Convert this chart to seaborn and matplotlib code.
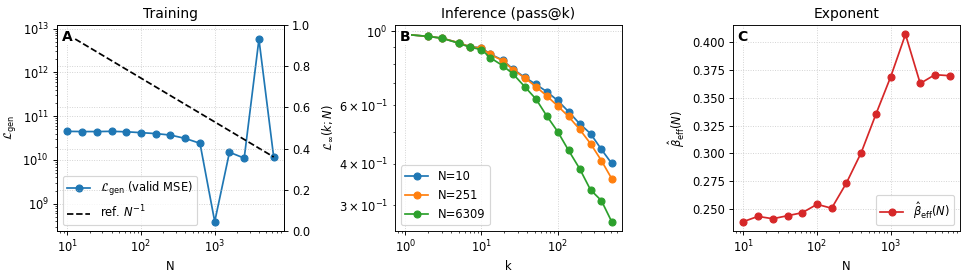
import numpy as np
import pandas as pd
import matplotlib
matplotlib.use("Agg")
import matplotlib.pyplot as plt
import seaborn as sns

# ---- data ----
N_train = [10, 15.8, 25.1, 39.8, 63.1, 100, 158, 251, 398, 631, 1000, 1585, 2512, 3981, 6309]
L_gen = [4.5e10, 4.45e10, 4.45e10, 4.5e10, 4.4e10, 4.2e10, 4.0e10, 3.7e10, 3.1e10, 2.4e10,
         3.9e8, 1.5e10, 1.1e10, 5.7e12, 1.17e10]

k_vals = [1, 2, 3, 5, 7, 10, 13, 19, 26, 37, 52, 72, 100, 139, 194, 270, 375, 512]
L_N10 = [0.98, 0.966, 0.955, 0.925, 0.90, 0.893, 0.855, 0.82, 0.77, 0.728, 0.693, 0.659,
         0.620, 0.574, 0.528, 0.493, 0.442, 0.401]
L_N251 = [0.98, 0.966, 0.955, 0.925, 0.90, 0.89, 0.853, 0.817, 0.767, 0.725, 0.682, 0.640,
          0.597, 0.555, 0.508, 0.460, 0.409, 0.361]
L_N6309 = [0.98, 0.966, 0.955, 0.922, 0.897, 0.882, 0.834, 0.789, 0.745, 0.682, 0.626, 0.557,
           0.500, 0.439, 0.387, 0.334, 0.310, 0.268]
series_labels = ["N=10", "N=251", "N=6309"]

beta_eff = [0.239, 0.2437, 0.2416, 0.2443, 0.247, 0.2545, 0.251, 0.2737, 0.3008, 0.3353,
            0.3687, 0.4066, 0.3627, 0.3705, 0.3696]

# ---- figure ----
DPI = 83
fig, axes = plt.subplots(1, 3, figsize=(967 / DPI, 274 / DPI), dpi=DPI)
fig.subplots_adjust(left=57 / 967, right=960 / 967, top=1 - 25 / 274, bottom=1 - 231 / 274,
                    wspace=0.489)

grid_kw = dict(linestyle=":", alpha=0.6)
lw = 1.5
ms = 6


def panel_letter(ax, s):
    ax.text(0.02, 0.975, s, transform=ax.transAxes, fontsize=12, fontweight="bold",
            va="top", ha="left", zorder=10,
            bbox=dict(facecolor="white", edgecolor="none", pad=0.5))


# Panel A
ax = axes[0]
Ntr = np.array(N_train)
ref = L_gen[-1] * (Ntr[-1] / Ntr)
sns.lineplot(x=N_train, y=L_gen, ax=ax, color="C0", marker="o", markersize=ms,
             markeredgecolor="C0", markeredgewidth=1, lw=lw,
             label=r"$\mathcal{L}_{\rm gen}$ (valid MSE)")
sns.lineplot(x=N_train, y=ref, ax=ax, color="black", ls="--", lw=lw,
             label=r"ref. $N^{-1}$")
ax.set_xscale("log")
ax.set_yscale("log")
ax.set_xlabel("N")
ax.set_ylabel(r"$\mathcal{L}_{\rm gen}$")
ax.set_title("Training")
ax.grid(True, which="major", **grid_kw)
ax.legend(loc="lower left")
ax2 = ax.twinx()
ax2.set_ylim(0, 1)
ax2.grid(True, **grid_kw)
panel_letter(ax, "A")

# Panel B
ax = axes[1]
for vals, lab, c in zip([L_N10, L_N251, L_N6309], series_labels, ["C0", "C1", "C2"]):
    df = pd.DataFrame({"k": k_vals, "L": vals})
    sns.lineplot(data=df, x="k", y="L", ax=ax, color=c, marker="o", markersize=ms,
                 markeredgecolor=c, markeredgewidth=1, lw=lw, label=lab)
ax.set_xscale("log")
ax.set_yscale("log")
ax.set_xlabel("k")
ax.set_ylabel(r"$\mathcal{L}_\infty(k;N)$")
ax.set_title("Inference (pass@k)")
ax.grid(True, which="major", **grid_kw)
ax.legend(loc="lower left")
panel_letter(ax, "B")

# Panel C
ax = axes[2]
sns.lineplot(x=N_train, y=beta_eff, ax=ax, color="C3", marker="o", markersize=ms,
             markeredgecolor="C3", markeredgewidth=1, lw=lw,
             label=r"$\hat{\beta}_{\rm eff}(N)$")
ax.set_xscale("log")
ax.set_xlabel("N")
ax.set_ylabel(r"$\hat{\beta}_{\rm eff}(N)$")
ax.set_title("Exponent")
ax.grid(True, which="major", **grid_kw)
ax.legend(loc="lower right")
panel_letter(ax, "C")

fig.savefig("out.png", dpi=DPI)
